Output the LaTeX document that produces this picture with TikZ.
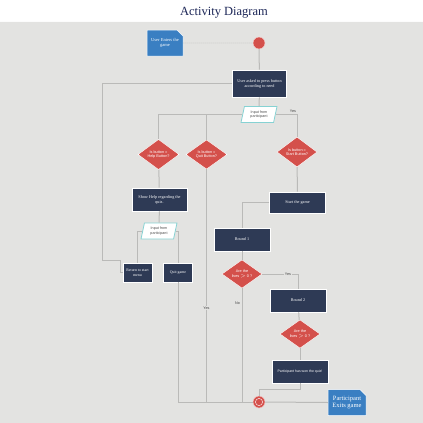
\documentclass[tikz,border=0pt]{standalone}
\usepackage{fontspec}
\setmainfont{Liberation Serif}
\newfontfamily\labelfont{Liberation Sans}
\usetikzlibrary{shapes.geometric,shapes.misc,calc}
\definecolor{bg}{HTML}{E3E3E1}
\definecolor{navy}{HTML}{2E3A55}
\definecolor{dred}{HTML}{D4504B}
\definecolor{lblue}{HTML}{3A7FC2}
\definecolor{lgray}{HTML}{BABAB8}
\definecolor{ttl}{HTML}{1C2657}
\definecolor{cyanb}{HTML}{86D2D3}
\begin{document}
\begin{tikzpicture}[x=1pt,y=-1pt,
 act/.style={rectangle, draw=white, line width=0.8pt, fill=navy, text=white, font=\fontsize{4.2}{5}\selectfont, align=center, inner sep=0pt},
 dec/.style={diamond, fill=dred, draw=white, line width=0.4pt, text=white, font=\labelfont\fontsize{3.8}{4.7}\selectfont, align=center, inner sep=0pt},
 inp/.style={trapezium, trapezium left angle=76, trapezium right angle=104, trapezium stretches=true, draw=cyanb, line width=0.8pt, fill=white, text=black!70, font=\labelfont\fontsize{3.7}{4.6}\selectfont, align=center, inner sep=0pt, minimum width=36pt, minimum height=16pt},
 term/.style={chamfered rectangle, chamfered rectangle corners=north east, chamfered rectangle xsep=3pt, chamfered rectangle ysep=3pt, fill=lblue, draw=white, line width=0.5pt, text=white, align=center, inner sep=0pt},
 flow/.style={draw=lgray, line width=1pt},
 lbl/.style={font=\labelfont\fontsize{3.7}{4}\selectfont, fill=bg, inner sep=0.5pt, text=black!75},
]
\useasboundingbox (0,0) rectangle (423,423);
\fill[white] (0,0) rectangle (423,423);
\fill[bg] (0,21) rectangle (423,423);
\draw[white!90!bg, line width=0.6pt] (0,21) -- (423,21);

\node[font=\fontsize{12.5}{14}\selectfont, text=ttl] (title) at (224,12.5) {Activity Diagram};

% nodes
\node[term, minimum width=36pt, minimum height=26pt, font=\fontsize{4.5}{5.4}\selectfont] (u1) at (165,43) {User Enters the\\game};
\node[circle, fill=dred, draw=white!80!dred, line width=0.4pt, minimum size=12pt, inner sep=0pt] (start) at (259,43) {};
\node[act, minimum width=54pt, minimum height=27pt] (b1) at (259.5,83.5) {User asked to press button\\according to need};
\node[inp] (p1) at (259,114.5) {Input from\\participant};
\node[dec, minimum width=41pt, minimum height=25pt] (d1) at (158.5,154.5) {Is button =\\Help Button?};
\node[dec, minimum width=41pt, minimum height=25pt] (d2) at (206.5,154.5) {Is button =\\Quit Button?};
\node[dec, minimum width=40pt, minimum height=30pt] (d3) at (297,152) {Is button =\\Start Button?};
\node[act, minimum width=55pt, minimum height=23pt] (b2) at (159.5,199.5) {Show Help regarding the\\quiz.};
\node[inp] (p2) at (159,231) {Input from\\participant};
\node[act, minimum width=29pt, minimum height=19pt, font=\fontsize{3.9}{4.7}\selectfont] (r1) at (137.5,272.5) {Return to start\\menu};
\node[act, minimum width=29pt, minimum height=19pt, font=\fontsize{3.9}{4.7}\selectfont] (q1) at (178,272.5) {Quit game};
\node[act, minimum width=56pt, minimum height=21pt] (s1) at (297.5,202.5) {Start the game};
\node[act, minimum width=56pt, minimum height=23pt] (rd1) at (242,239.5) {Round 1};
\node[dec, minimum width=40pt, minimum height=28pt] (d4) at (242,274) {Are the\\lives $>$ 0 ?};
\node[act, minimum width=56pt, minimum height=23pt] (rd2) at (298,300.5) {Round 2};
\node[dec, minimum width=40pt, minimum height=28pt] (d5) at (300,334) {Are the\\lives $>$ 0 ?};
\node[act, minimum width=56pt, minimum height=23pt, font=\labelfont\fontsize{3.5}{4.4}\selectfont] (w1) at (300,371.5) {Participant has won the quiz!};
\node[circle, fill=dred, draw=white!70!dred, line width=0.5pt, minimum size=12pt, inner sep=0pt] (end) at (259,402) {};
\draw[white!80!dred, line width=0.5pt] (end.center) circle (3.6pt);
\node[term, minimum width=38pt, minimum height=26pt, font=\fontsize{6.5}{7.5}\selectfont] (e1) at (347,402.5) {Participant\\Exits game};

% connectors
\draw[draw=lgray!80!white, line width=0.7pt, dash pattern=on 1.2pt off 0.8pt] (u1) -- (start);
\draw[flow] (start) -- (b1);
\draw[flow] (b1) -- (p1);
\draw[flow] (b1.west) -| (102,260) -- (120,260) |- (r1.west);
\draw[flow] (p1.west) -| (d1.north);
\draw[flow] (d2.north |- p1.west) -- (d2.north);
\draw[flow] (p1.east) -| (d3.north);
\node[lbl, fill=none] (yes1) at (293,111) {Yes};
\draw[flow] (d1) -- (b2);
\draw[flow] (b2) -- (p2);
\draw[flow] (p2.west) -| (r1.north);
\draw[flow] (p2.east) -| (q1.north);
\draw[flow] (q1.south) |- (end.west);
\draw[flow] (d2.south) -- (d2.south |- end.west);
\node[lbl] (yes2) at (206.5,308) {Yes};
\draw[flow] (d3) -- (s1);
\draw[flow] (s1.west) -| (rd1.north);
\draw[flow] (rd1) -- (d4);
\draw[flow] (d4.east) -| (rd2.north);
\node[lbl] (yes3) at (288,274) {Yes};
\draw[flow] (d4.south) -- (d4.south |- end.west);
\node[lbl, fill=none] (no1) at (237.5,303) {No};
\draw[flow] (rd2) -- (d5);
\draw[flow] (d5) -- (w1);
\draw[flow] (w1.south) -- ++(0,6) -| (end.north);
\draw[flow] (end.east) -- (e1.west);
\end{tikzpicture}
\end{document}
